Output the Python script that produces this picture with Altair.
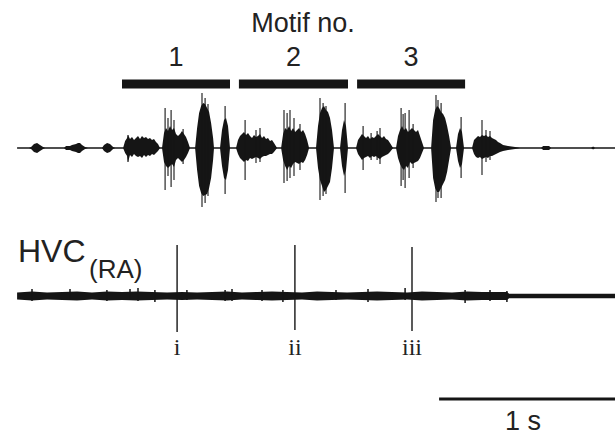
import altair as alt
import pandas as pd

# ---------------- data (time in ms, amplitude in arbitrary units) ----------------
# song amplitude envelope: time, upper amplitude, lower amplitude
song_t = [
    94, 160, 171, 187, 204, 220, 237, 248,
    352, 363, 385, 396, 418, 429, 440, 451, 468, 484,
    561, 572, 589, 605, 622, 633,
    677, 688, 699, 704, 715, 726, 737, 748, 759, 770, 781, 792, 803, 814, 825, 836, 847, 858, 869, 880,
    891, 902, 913, 924, 935, 946, 957, 968, 979, 990, 1001, 1012, 1023, 1034, 1045,
    1073, 1084, 1095, 1106, 1117, 1128, 1139, 1150, 1161, 1172, 1177,
    1210, 1221, 1232, 1243, 1254, 1265,
    1298, 1309, 1320, 1331, 1342, 1353, 1364, 1375, 1386, 1397, 1408, 1419, 1430, 1441, 1452, 1463,
    1474, 1485, 1496, 1507, 1524,
    1546, 1557, 1568, 1579, 1590, 1601, 1612, 1623, 1634, 1645, 1656, 1667, 1678, 1689, 1700,
    1738, 1749, 1760, 1771, 1782, 1793, 1804, 1815, 1826, 1837,
    1870, 1881, 1892, 1903, 1914,
    1958, 1969, 1980, 1991, 2002, 2013, 2024, 2035, 2046, 2057, 2068, 2079, 2090, 2101, 2112, 2123,
    2134, 2145, 2162,
    2178, 2189, 2200, 2211, 2222, 2233, 2244, 2255, 2266, 2277, 2288, 2299, 2310, 2321, 2332,
    2371, 2382, 2393, 2404, 2415, 2426, 2437, 2448, 2459, 2470, 2481,
    2508, 2519, 2530, 2541, 2552,
    2596, 2607, 2618, 2629, 2640, 2651, 2662, 2673, 2684, 2695, 2706, 2717, 2728, 2739, 2750, 2767,
    2794, 2833, 2860,
    2976, 2987, 3020, 3031, 3251, 3262, 3273, 3383]
song_up = [
    0, 0, 1, 4, 5, 3, 1, 0,
    0, 2, 2, 3, 4, 5, 5, 3, 1, 0,
    0, 3, 5, 4, 1, 0,
    0, 7, 10, 13, 9, 11, 8, 10, 12, 9, 12, 10, 11, 9, 10, 8, 9, 6, 4, 0,
    0, 15, 20, 17, 22, 18, 20, 14, 12, 14, 17, 14, 11, 6, 0,
    0, 20, 35, 42, 45, 44, 40, 36, 25, 10, 0,
    0, 18, 28, 30, 22, 0,
    0, 8, 12, 14, 16, 13, 15, 12, 10, 13, 11, 12, 14, 10, 12, 9,
    10, 7, 8, 5, 0,
    0, 14, 20, 18, 22, 17, 20, 16, 18, 20, 16, 18, 14, 8, 0,
    0, 22, 35, 40, 42, 38, 36, 30, 18, 0,
    0, 18, 28, 22, 0,
    0, 8, 11, 14, 12, 10, 12, 9, 11, 10, 12, 14, 12, 10, 12, 9,
    8, 5, 0,
    0, 12, 18, 22, 18, 20, 16, 18, 20, 18, 16, 18, 12, 6, 0,
    0, 28, 38, 42, 40, 36, 34, 30, 22, 12, 0,
    0, 14, 20, 16, 0,
    0, 8, 10, 12, 11, 13, 12, 13, 11, 12, 10, 9, 8, 6, 5, 3,
    2, 1, 0,
    0, 2, 2, 0, 0, 1.5, 0, 0]
song_down = [
    0, 0, 1, 4, 5, 3, 1, 0,
    0, 2, 2, 3, 4, 5, 5, 3, 1, 0,
    0, 3, 5, 4, 1, 0,
    0, 5, 8, 14, 7, 9, 6, 8, 9, 8, 10, 7, 9, 7, 8, 6, 7, 5, 3, 0,
    0, 14, 18, 20, 18, 16, 19, 12, 10, 12, 14, 12, 9, 5, 0,
    0, 22, 38, 45, 48, 47, 46, 40, 30, 12, 0,
    0, 18, 30, 32, 22, 0,
    0, 6, 10, 12, 14, 12, 13, 10, 11, 10, 9, 10, 11, 9, 8, 8,
    7, 6, 6, 4, 0,
    0, 12, 18, 22, 18, 20, 16, 14, 15, 16, 14, 15, 12, 7, 0,
    0, 20, 32, 38, 44, 42, 38, 34, 20, 0,
    0, 18, 28, 22, 0,
    0, 6, 9, 12, 10, 9, 8, 10, 8, 9, 8, 10, 11, 9, 8, 7,
    6, 4, 0,
    0, 10, 16, 20, 22, 18, 20, 14, 16, 15, 14, 13, 10, 5, 0,
    0, 30, 40, 44, 44, 40, 36, 32, 24, 12, 0,
    0, 13, 20, 16, 0,
    0, 6, 9, 10, 9, 11, 10, 9, 10, 8, 8, 7, 6, 5, 4, 3,
    2, 1, 0,
    0, 2, 2, 0, 0, 1.5, 0, 0]

# prominent song peaks: time, top, bottom
peak_t = [704, 908, 924, 941, 957, 1007, 1111, 1128, 1144, 1238, 1348, 1408, 1430,
          1562, 1579, 1595, 1617, 1650, 1760, 1777, 1793, 1898, 1997, 2041, 2074, 2090,
          2206, 2217, 2228, 2250, 2272, 2398, 2409, 2426, 2536, 2651, 2673, 2695]
peak_top = [13, 40, 30, 38, 28, 19, 55, 50, 44, 42, 28, 18, 20,
            38, 35, 38, 30, 24, 50, 45, 42, 45, 22, 15, 17, 20,
            40, 34, 35, 38, 24, 53, 48, 45, 31, 28, 18, 17]
peak_bot = [14, 42, 28, 39, 32, 16, 59, 55, 48, 46, 32, 15, 14,
            35, 33, 30, 28, 22, 52, 48, 46, 45, 22, 12, 12, 16,
            38, 32, 40, 30, 20, 54, 50, 50, 30, 27, 14, 12]

# motifs
motif_labels = ["1", "2", "3"]
motif_start = [671, 1314, 1964]
motif_end = [1265, 1914, 2558]

# HVC(RA) recording: noise band half-width, noise excursions, spikes
hvc_t = [94, 176, 259, 341, 424, 506, 589, 671, 754, 836, 919, 1001, 1084, 1166, 1249, 1331,
         1414, 1496, 1579, 1661, 1744, 1826, 1909, 1991, 2074, 2156, 2239, 2321, 2404, 2486,
         2569, 2651, 2734, 2789, 2800, 3080, 3383]
hvc_half = [3.5, 4.5, 3.5, 4, 4.5, 3.5, 4.5, 4, 4.5, 4, 3.5, 4, 3.5, 4, 4.5, 3.5,
            4, 4.5, 4, 3.5, 4.5, 4, 3.5, 4, 4.5, 4, 3.5, 4.5, 4, 3.5,
            4.5, 4, 4, 4, 2.2, 2.2, 2.2]
noise_t = [176, 385, 588, 715, 759, 852, 1028, 1238, 1276, 1441, 1556, 1848, 2024, 2228, 2558, 2695, 2788]
noise_up = [7, 7, 6, 7, 8, 6, 6, 6, 7, 6, 6, 6, 7, 8, 6, 6, 5]
noise_down = [5, 4, 5, 4, 5, 6, 4, 5, 5, 5, 6, 4, 6, 4, 7, 5, 6]
spike_t = [974, 1622, 2266]
spike_top = [51, 51, 49]
spike_bot = [36, 34, 35]
spike_labels = ["i", "ii", "iii"]

scale_bar_ms = 1000
scale_bar_start = 2415
scale_label = "1 s"

# ---------------- layout constants ----------------
X_DOM = [0, 3382.5]
Y_DOM = [-290, 148]
HVC_BASE = -148
INK = "#151515"
TXT = "#222222"


def X(f, **kw):
    return alt.X(f, type="quantitative",
                 scale=alt.Scale(domain=X_DOM, nice=False, zero=False), axis=None, **kw)


def Y(f, **kw):
    return alt.Y(f, type="quantitative",
                 scale=alt.Scale(domain=Y_DOM, nice=False, zero=False), axis=None, **kw)


song = pd.DataFrame({"t": song_t, "up": song_up, "down": [-d for d in song_down]})
peaks = pd.DataFrame({"t": peak_t, "top": peak_top, "bot": [-b for b in peak_bot]})
motifs = pd.DataFrame({"label": motif_labels, "t0": motif_start, "t1": motif_end})
motifs["mid"] = (motifs.t0 + motifs.t1) / 2
hvc = pd.DataFrame({"t": hvc_t, "h": hvc_half})
noise = pd.DataFrame({"t": noise_t, "up": noise_up, "down": noise_down})
spikes = pd.DataFrame({"t": spike_t, "top": spike_top, "bot": spike_bot, "label": spike_labels})

base_line = alt.Chart(pd.DataFrame({"t0": [song_t[0]], "t1": [song_t[-1]], "y": [0]})).mark_rule(
    color=INK, strokeWidth=1.6).encode(x=X("t0"), x2=alt.X2("t1"), y=Y("y"))

song_area = alt.Chart(song).mark_area(color=INK, interpolate="linear").encode(
    x=X("t"), y=Y("up"), y2=alt.Y2("down"))

song_peaks = alt.Chart(peaks).mark_rule(color=INK, strokeWidth=1.1).encode(
    x=X("t"), y=Y("top"), y2=alt.Y2("bot"))

motif_bars = alt.Chart(motifs).transform_calculate(y="64").mark_rule(
    color=INK, strokeWidth=9).encode(x=X("t0"), x2=alt.X2("t1"), y=Y("y"))

motif_text = alt.Chart(motifs).transform_calculate(y="90").mark_text(
    font="Liberation Sans", fontSize=27, color=TXT, baseline="middle").encode(
    x=X("mid"), y=Y("y"), text="label:N")

motif_title = alt.Chart(pd.DataFrame({"t": [1667], "y": [124], "s": ["Motif no."]})).mark_text(
    font="Liberation Sans", fontSize=27, color=TXT, baseline="middle").encode(
    x=X("t"), y=Y("y"), text="s:N")

hvc_band = alt.Chart(hvc).transform_calculate(
    up=f"{HVC_BASE} + datum.h", down=f"{HVC_BASE} - datum.h").mark_area(color=INK).encode(
    x=X("t"), y=Y("up"), y2=alt.Y2("down"))

hvc_noise = alt.Chart(noise).transform_calculate(
    a=f"{HVC_BASE} + datum.up", b=f"{HVC_BASE} - datum.down").mark_rule(
    color=INK, strokeWidth=1.5).encode(x=X("t"), y=Y("a"), y2=alt.Y2("b"))

hvc_spikes = alt.Chart(spikes).transform_calculate(
    a=f"{HVC_BASE} + datum.top", b=f"{HVC_BASE} - datum.bot").mark_rule(
    color=INK, strokeWidth=1.4).encode(x=X("t"), y=Y("a"), y2=alt.Y2("b"))

spike_text = alt.Chart(spikes).transform_calculate(y="-200").mark_text(
    font="Liberation Serif", fontSize=24, color=TXT, baseline="middle").encode(
    x=X("t"), y=Y("y"), text="label:N")

hvc_label = alt.Chart(pd.DataFrame({"t": [99], "y": [-104], "s": ["HVC"]})).mark_text(
    font="Liberation Sans", fontSize=32, color=TXT, baseline="middle", align="left").encode(
    x=X("t"), y=Y("y"), text="s:N")

hvc_sub = alt.Chart(pd.DataFrame({"t": [490], "y": [-122], "s": ["(RA)"]})).mark_text(
    font="Liberation Sans", fontSize=26, color=TXT, baseline="middle", align="left").encode(
    x=X("t"), y=Y("y"), text="s:N")

bar_df = pd.DataFrame({"t0": [scale_bar_start], "t1": [scale_bar_start + scale_bar_ms], "y": [-251]})
scale_bar = alt.Chart(bar_df).mark_rule(color=INK, strokeWidth=3).encode(
    x=X("t0"), x2=alt.X2("t1"), y=Y("y"))

scale_text = alt.Chart(pd.DataFrame({"t": [2877], "y": [-274], "s": [scale_label]})).mark_text(
    font="Liberation Sans", fontSize=27, color=TXT, baseline="middle").encode(
    x=X("t"), y=Y("y"), text="s:N")

chart = alt.layer(
    base_line, song_area, song_peaks, motif_bars, motif_text, motif_title,
    hvc_band, hvc_noise, hvc_spikes, spike_text, hvc_label, hvc_sub, scale_bar, scale_text
).properties(
    width=615, height=438, padding=0, background="white",
    autosize=alt.AutoSizeParams(type="none")
).configure_view(stroke=None)

chart.save("out.html", embed_options={"renderer": "svg", "actions": False})
